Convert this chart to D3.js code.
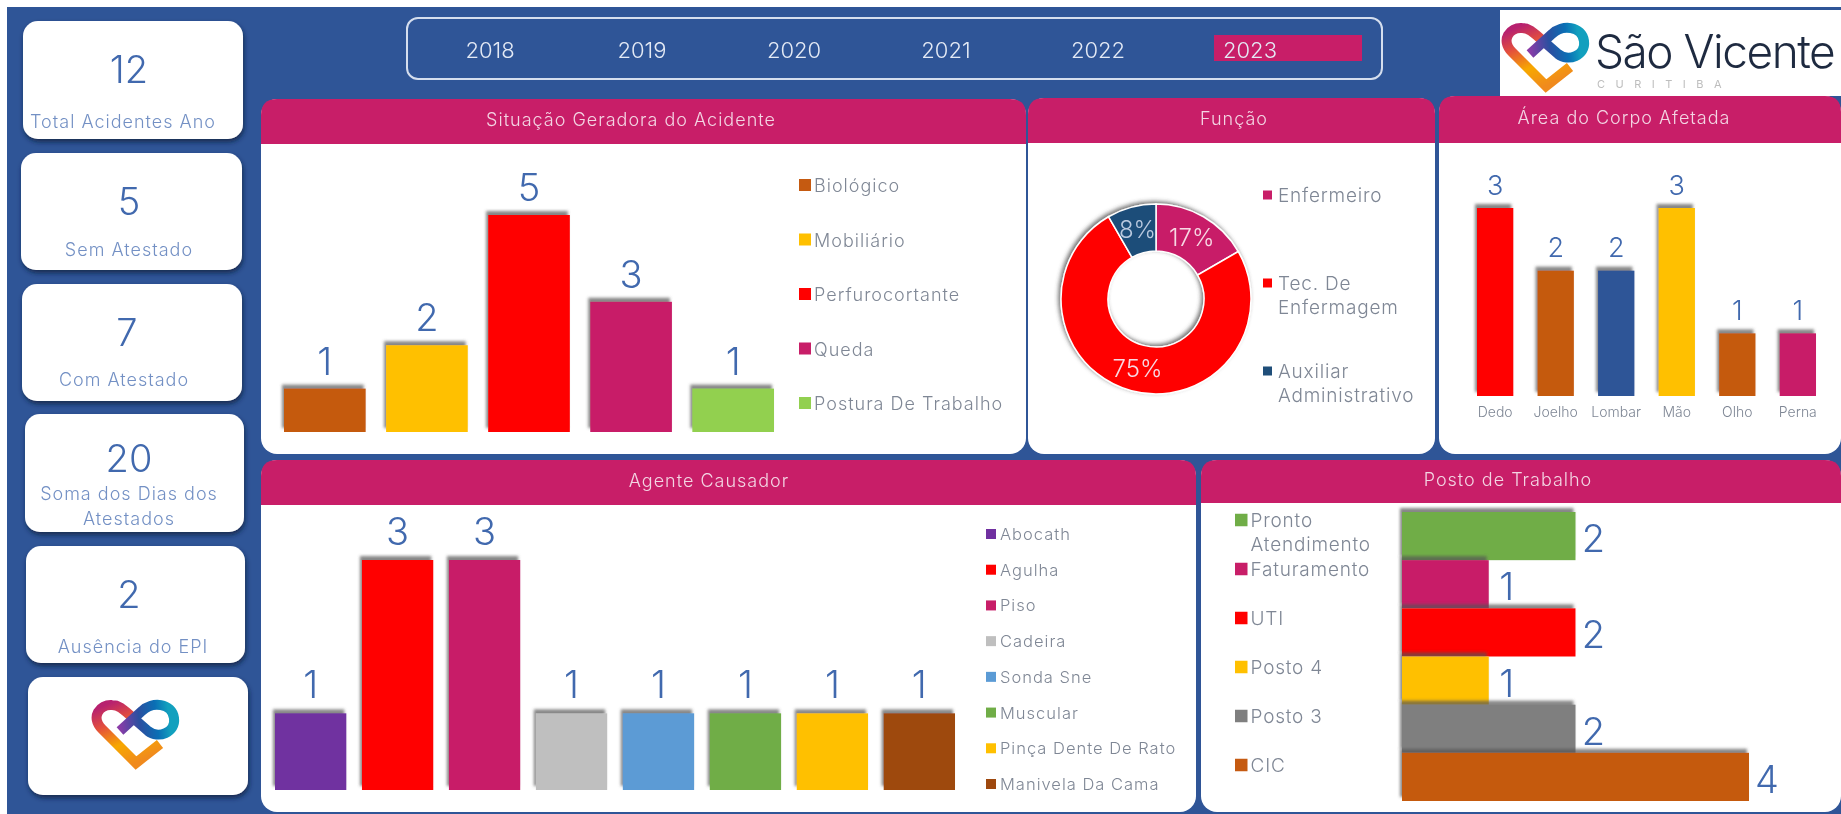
<!DOCTYPE html>
<html><head><meta charset="utf-8">
<script src="https://cdn.jsdelivr.net/npm/d3@7/dist/d3.min.js"></script>
<style>html,body{margin:0;padding:0;background:#fff;overflow:hidden}svg{display:block;font-family:Inter,"Open Sans",sans-serif;filter:blur(.5px)}</style>
</head><body><svg id="c" width="1841" height="814"></svg>
<script>
const years=["2018","2019","2020","2021","2022","2023"];
const selectedYear="2023";
const kpiValues=[12,5,7,20,2];
const kpiLabels=["Total Acidentes Ano","Sem Atestado","Com Atestado","Soma dos Dias dos\nAtestados","Ausência do EPI"];
const situacaoCats=["Biológico","Mobiliário","Perfurocortante","Queda","Postura De Trabalho"];
const situacaoVals=[1,2,5,3,1];
const situacaoColors=["#C55A11","#FFC000","#FF0000","#C81E68","#92D050"];
const funcaoCats=["Enfermeiro","Tec. De\nEnfermagem","Auxiliar\nAdministrativo"];
const funcaoVals=[2,9,1];
const funcaoColors=["#C81E68","#FF0000","#1F4E79"];
const areaCats=["Dedo","Joelho","Lombar","Mão","Olho","Perna"];
const areaVals=[3,2,2,3,1,1];
const areaColors=["#FF0000","#C55A11","#2F5597","#FFC000","#C55A11","#C81E68"];
const agenteCats=["Abocath","Agulha","Piso","Cadeira","Sonda Sne","Muscular","Pinça Dente De Rato","Manivela Da Cama"];
const agenteVals=[1,3,3,1,1,1,1,1];
const agenteColors=["#7030A0","#FF0000","#C81E68","#BFBFBF","#5B9BD5","#70AD47","#FFC000","#9E480E"];
const postoCats=["Pronto\nAtendimento","Faturamento","UTI","Posto 4","Posto 3","CIC"];
const postoVals=[2,1,2,1,2,4];
const postoColors=["#70AD47","#C81E68","#FF0000","#FFC000","#7F7F7F","#C55A11"];

const BG="#2F5597",PINK="#C81E68",VAL="#4169AE",LAB="#7390C4",LEG="#7F8795";
const svg=d3.select("#c");
const defs=svg.append("defs");
function shadow(id,dx,dy,s,col,op){
  const f=defs.append("filter").attr("id",id).attr("x","-20%").attr("y","-20%").attr("width","140%").attr("height","140%");
  f.append("feDropShadow").attr("dx",dx).attr("dy",dy).attr("stdDeviation",s).attr("flood-color",col).attr("flood-opacity",op);
}
shadow("barS",-2,-4,1.8,"#555",.7);
shadow("cardS",1,3,2.5,"#10203f",.8);
shadow("donutS",-2,-2,2,"#444",.75);
function grad(id,stops,x1,y1,x2,y2){
  const g=defs.append("linearGradient").attr("id",id).attr("gradientUnits","userSpaceOnUse")
    .attr("x1",x1).attr("y1",y1).attr("x2",x2).attr("y2",y2);
  stops.forEach(s=>g.append("stop").attr("offset",s[0]).attr("stop-color",s[1]));
}
grad("hA",[[0,"#F08A1D"],[.35,"#F7A800"],[.7,"#E4503C"],[1,"#B7216F"]],66,78,40,18);
grad("hB",[[0,"#8A3CA8"],[.4,"#2B4FA0"],[.75,"#0A6FB5"],[1,"#12A0BE"]],50,46,100,40);

svg.append("rect").attr("x",7).attr("y",7).attr("width",1834).attr("height",807).attr("fill",BG);

function multi(sel,text,lh){
  const parts=text.split("\n");
  parts.forEach((p,i)=>sel.append("tspan").attr("x",sel.attr("x")).attr("dy",i?lh:0).text(p));
}
// KPI cards
const cards=[[23,21,220,118,129,70,123,121],[21,153,221,117,129,202,129,249],[22,284,220,117,127,333,124,379],[25,414,219,118,129,459,129,493],[26,546,219,117,129,595,133,646]];
cards.forEach((c,i)=>{
  svg.append("rect").attr("x",c[0]).attr("y",c[1]).attr("width",c[2]).attr("height",c[3]).attr("rx",15).attr("fill","#fff").attr("filter","url(#cardS)");
  svg.append("text").attr("x",c[4]).attr("y",c[5]-1).attr("text-anchor","middle").attr("dominant-baseline","central")
    .attr("font-size",38).attr("font-weight",300).attr("fill",VAL).text(kpiValues[i]);
  const t=svg.append("text").attr("x",c[6]).attr("y",c[7]).attr("text-anchor","middle").attr("dominant-baseline","central")
    .attr("font-size",18).attr("font-weight",300).attr("letter-spacing",1).attr("fill",LAB);
  multi(t,kpiLabels[i],25);
});
svg.append("rect").attr("x",28).attr("y",677).attr("width",220).attr("height",118).attr("rx",15).attr("fill","#fff").attr("filter","url(#cardS)");

function heart(x,y){
  const g=svg.append("g").attr("transform",`translate(${x},${y})`).attr("fill","none").attr("stroke-width",10);
  g.append("path").attr("d","M90 59 L66 78 L32 44 C20 32 30 19 42 20 C50 20 55 26 62 32").attr("stroke","url(#hA)");
  g.append("path").attr("d","M50 46 L72 26 C82 16 102 18 104 33 C106 48 88 54 78 46 L62 32").attr("stroke","url(#hB)");
}
heart(70,685);

// year slicer
svg.append("rect").attr("x",407).attr("y",18).attr("width",975).attr("height",61).attr("rx",11).attr("fill","none").attr("stroke","#D5DEEE").attr("stroke-width",2);
const yearX=d3.scalePoint().domain(years).range([490,1250]);
svg.append("rect").attr("x",yearX(selectedYear)-36).attr("y",35).attr("width",148).attr("height",26).attr("fill",PINK);
svg.selectAll("text.y").data(years).join("text").attr("class","y").attr("x",d=>yearX(d)).attr("y",50)
  .attr("text-anchor","middle").attr("dominant-baseline","central").attr("font-size",22).attr("font-weight",300).attr("fill","#E4EAF5").text(d=>d);

// logo
svg.append("rect").attr("x",1500).attr("y",10).attr("width",341).attr("height",86).attr("fill","#fff");
heart(1480,8);
svg.append("text").attr("x",1595).attr("y",68).attr("font-size",46).attr("font-weight",300).attr("letter-spacing",-1.5).attr("fill","#1E2A40").text("São Vicente");
svg.append("text").attr("x",1597).attr("y",88).attr("font-size",11).attr("letter-spacing",10.5).attr("fill","#BDBDBD").text("CURITIBA");

// panels
function panel(x,y,w,h,hh,title,tx){
  const r=16;
  svg.append("rect").attr("x",x).attr("y",y).attr("width",w).attr("height",h).attr("rx",r).attr("fill","#fff");
  svg.append("path").attr("d",`M${x} ${y+hh}V${y+r}Q${x} ${y} ${x+r} ${y}H${x+w-r}Q${x+w} ${y} ${x+w} ${y+r}V${y+hh}Z`).attr("fill",PINK);
  svg.append("text").attr("x",tx).attr("y",y+hh/2-2).attr("text-anchor","middle").attr("dominant-baseline","central")
    .attr("font-size",18).attr("font-weight",300).attr("letter-spacing",1).attr("fill","#F3D5E3").text(title);
}
panel(261,99,765,355,45,"Situação Geradora do Acidente",631);
panel(1028,98,407,356,45,"Função",1234);
panel(1439,96,402,358,47,"Área do Corpo Afetada",1624);
panel(261,460,935,352,45,"Agente Causador",709);
panel(1201,460,640,352,43,"Posto de Trabalho",1508);

function legend(cats,colors,x,y0,y1,size,fs,gap,ls){
  const ly=d3.scalePoint().domain(cats).range([y0,y1]);
  const g=svg.append("g");
  cats.forEach((c,i)=>{
    g.append("rect").attr("x",x).attr("y",ly(c)-size/2).attr("width",size).attr("height",size).attr("fill",colors[i]);
    const t=g.append("text").attr("x",x+size+gap).attr("y",ly(c)).attr("dominant-baseline","central")
      .attr("font-size",fs).attr("font-weight",300).attr("letter-spacing",ls).attr("fill",LEG);
    multi(t,c,24);
  });
}
function vbars(cats,vals,colors,x0,x1,pad,base,yTop,maxV,fs,lab){
  const x=d3.scaleBand().domain(cats).range([x0,x1]).paddingInner(pad).paddingOuter(0);
  const y=d3.scaleLinear().domain([0,maxV]).range([base,yTop]);
  const g=svg.append("g");
  g.selectAll("rect").data(cats).join("rect").attr("x",d=>x(d)).attr("width",x.bandwidth())
    .attr("y",(d,i)=>y(vals[i])).attr("height",(d,i)=>base-y(vals[i])).attr("fill",(d,i)=>colors[i]).attr("filter","url(#barS)");
  g.selectAll("text").data(cats).join("text").attr("x",d=>x(d)+x.bandwidth()/2).attr("y",(d,i)=>y(vals[i])-lab)
    .attr("text-anchor","middle").attr("dominant-baseline","central").attr("font-size",fs).attr("font-weight",300).attr("fill",VAL).text((d,i)=>vals[i]);
  return x;
}
vbars(situacaoCats,situacaoVals,situacaoColors,284,774,.2,432,215,5,38,28);
legend(situacaoCats,situacaoColors,799,185,403,12,18,3,1);

vbars(agenteCats,agenteVals,agenteColors,275,955,.18,790,560,3,38,29);
legend(agenteCats,agenteColors,986,534,784,10,16.5,4,1);

const ax=vbars(areaCats,areaVals,areaColors,1477,1816,.4,396,208,3,27,23);
const axis=svg.append("g").attr("transform","translate(0,396)").call(d3.axisBottom(ax).tickSize(0).tickPadding(11));
axis.select(".domain").remove();
axis.selectAll("text").attr("font-family","Inter").attr("font-size",14).attr("font-weight",300).attr("fill",LEG);

// donut
const pie=d3.pie().sort(null)(funcaoVals);
const arc=d3.arc().innerRadius(48).outerRadius(95);
const dg=svg.append("g").attr("transform","translate(1156,299)");
dg.append("g").attr("filter","url(#donutS)").selectAll("path").data(pie).join("path").attr("d",arc).attr("fill",(d,i)=>funcaoColors[i]).attr("stroke","#fff").attr("stroke-width",1.5);
const total=d3.sum(funcaoVals);
dg.selectAll("text").data(pie).join("text").attr("transform",d=>`translate(${arc.centroid(d)})`).attr("text-anchor","middle").attr("dominant-baseline","central")
  .attr("font-size",24).attr("font-weight",300).attr("fill",(d,i)=>i==2?"#B9C9DF":"#F7D9E4").text(d=>Math.round(d.value/total*100)+"%");
legend(funcaoCats,funcaoColors,1263,195,371,9,19,6,.8);

// posto horizontal
const py=d3.scaleBand().domain(postoCats).range([512,801]);
const px=d3.scaleLinear().domain([0,4]).range([1402,1749]);
const pg=svg.append("g");
pg.selectAll("rect").data(postoCats).join("rect").attr("x",px(0)).attr("y",d=>py(d)).attr("height",py.bandwidth())
  .attr("width",(d,i)=>px(postoVals[i])-px(0)).attr("fill",(d,i)=>postoColors[i]).attr("filter","url(#barS)");
pg.selectAll("text").data(postoCats).join("text").attr("x",(d,i)=>px(postoVals[i])+18).attr("y",d=>py(d)+py.bandwidth()/2+2)
  .attr("text-anchor","middle").attr("dominant-baseline","central").attr("font-size",38).attr("font-weight",300).attr("fill",VAL).text((d,i)=>postoVals[i]);
legend(postoCats,postoColors,1235,520,765,12.5,19,3,.8);
</script></body></html>
